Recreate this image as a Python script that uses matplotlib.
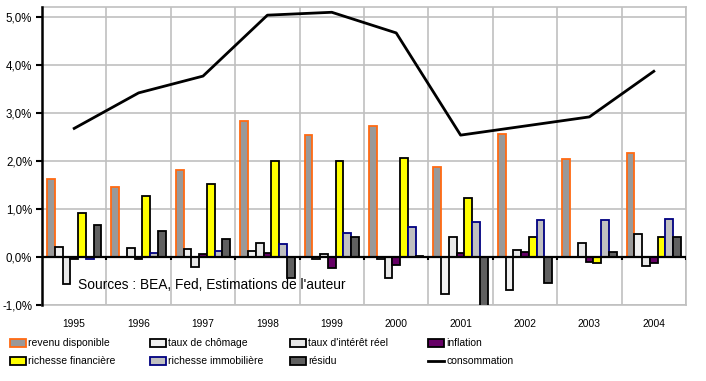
import matplotlib
matplotlib.use("Agg")
import matplotlib.pyplot as plt
from matplotlib.patches import Rectangle
from matplotlib.lines import Line2D
import numpy as np

plt.rcParams['font.family'] = ['Liberation Sans', 'DejaVu Sans']

years = ['1995', '1996', '1997', '1998', '1999', '2000', '2001', '2002', '2003', '2004']
revenu = [1.62, 1.46, 1.81, 2.83, 2.54, 2.74, 1.87, 2.56, 2.04, 2.17]
chomage = [0.21, 0.0, 0.17, 0.13, -0.05, -0.05, -0.78, -0.69, 0.0, 0.48]
taux = [-0.57, 0.19, -0.20, 0.29, 0.06, -0.43, 0.42, 0.15, 0.30, -0.19]
inflation = [-0.04, -0.04, 0.06, 0.08, -0.22, -0.17, 0.08, 0.11, -0.10, -0.13]
financiere = [0.92, 1.27, 1.53, 2.00, 2.00, 2.06, 1.24, 0.41, -0.13, 0.41]
immobiliere = [-0.05, 0.08, 0.12, 0.28, 0.51, 0.63, 0.74, 0.77, 0.77, 0.80]
residu = [0.67, 0.55, 0.375, -0.44, 0.42, 0.02, -1.03, -0.55, 0.11, 0.41]
consommation = [2.68, 3.42, 3.77, 5.04, 5.10, 4.67, 2.54, 2.73, 2.92, 3.87]

series = [
    ("revenu disponible", revenu, "#999999", "#ff6a13"),
    ("taux de chômage", chomage, "#f0f0f0", "#000000"),
    ("taux d'intérêt réel", taux, "#e8e8e8", "#000000"),
    ("inflation", inflation, "#660066", "#000000"),
    ("richesse financière", financiere, "#ffff00", "#000000"),
    ("richesse immobilière", immobiliere, "#c0c0c0", "#000080"),
    ("résidu", residu, "#606060", "#000000"),
]

fig = plt.figure(figsize=(7.06, 3.81), dpi=100)
ax = fig.add_axes([42/706, 1-305/381, (686-42)/706, (305-7)/381])

x = np.arange(len(years))
w = 0.121
for i, (lab, vals, fc, ec) in enumerate(series):
    ax.bar(x + (i-3)*w, vals, width=w, color=fc, edgecolor=ec, linewidth=1.3, zorder=3)

ax.plot(x, consommation, color='black', lw=2, zorder=4)

ax.set_xlim(-0.5, len(years)-0.5)
ax.set_ylim(-1.0, 5.21)
ax.set_yticks([-1, 0, 1, 2, 3, 4, 5])
ax.set_yticklabels([f"{v:.1f}%".replace('.', ',') for v in [-1, 0, 1, 2, 3, 4, 5]], fontsize=8.3)
bounds = np.arange(len(years)+1) - 0.5
ax.set_xticks(x)
ax.set_xticklabels(years, fontsize=7.4)
ax.tick_params(axis='x', length=0, pad=10)
ax.tick_params(axis='y', length=4, width=1.5, direction='out', pad=3)

for b in bounds:
    ax.axvline(b, color='#c0c0c0', lw=1.2, zorder=1)
for yv in [-1, 1, 2, 3, 4, 5]:
    ax.axhline(yv, color='#c0c0c0', lw=1.2, zorder=1)
ax.axhline(0, color='black', lw=1.6, zorder=5)
ax.vlines(bounds, -0.07, 0, color='black', lw=1.5, zorder=5)

for s in ['top', 'right', 'bottom']:
    ax.spines[s].set_color('#c0c0c0')
    ax.spines[s].set_linewidth(1.2)
ax.spines['left'].set_color('black')
ax.spines['left'].set_linewidth(1.8)
ax.spines['left'].set_zorder(6)

ax.text(0.056, 0.045, "Sources : BEA, Fed, Estimations de l'auteur", transform=ax.transAxes,
        fontsize=9.9, ha='left', va='bottom', zorder=6)

# legend
W, H = 706, 381
cols = [10, 150, 290, 428]
rows = [343, 361]
items = series + [("consommation", None, None, None)]
for k, (lab, vals, fc, ec) in enumerate(items):
    r, c = divmod(k, 4)
    px, py = cols[c], rows[r]
    if vals is None:
        fig.add_artist(Line2D([px/W, (px+16)/W], [1-py/H, 1-py/H], color='black', lw=2))
    else:
        fig.add_artist(Rectangle((px/W, 1-(py+4)/H), 16/W, 8/H, facecolor=fc, edgecolor=ec,
                                 lw=1.3, transform=fig.transFigure))
    fig.text((px+18)/W, 1-py/H, lab, fontsize=7.5, ha='left', va='center')

fig.savefig("out.png", dpi=100)
